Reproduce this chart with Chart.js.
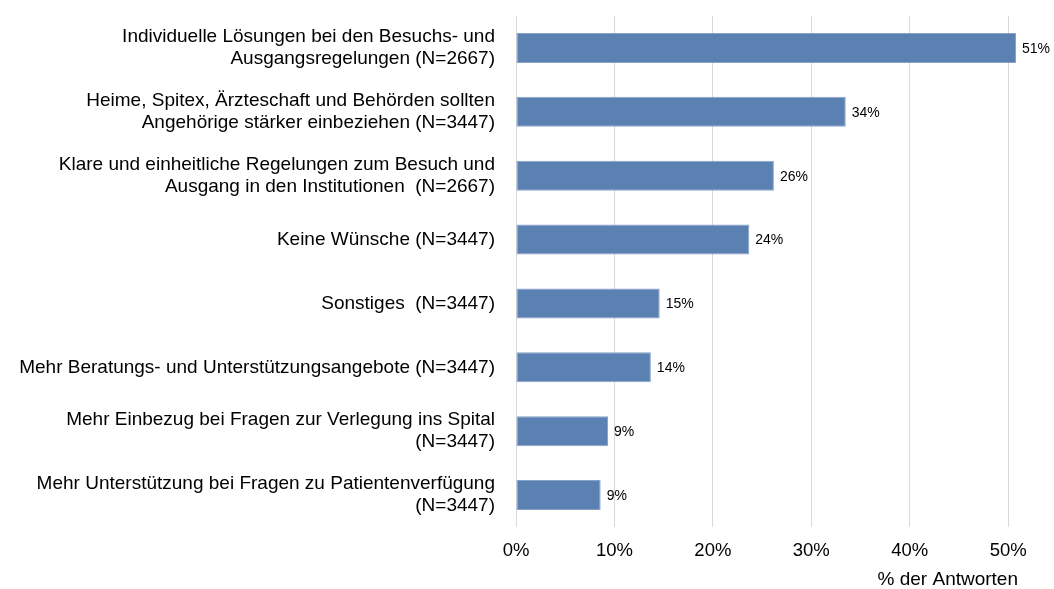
<!DOCTYPE html>
<html>
<head>
<meta charset="utf-8">
<script src="https://cdn.jsdelivr.net/npm/chart.js@4.4.0/dist/chart.umd.min.js"></script>
<style>
  html, body { margin: 0; padding: 0; background: #fff; }
  #wrap { width: 1054px; height: 589px; }
</style>
</head>
<body>
<div id="wrap"><canvas id="barChart"></canvas></div>
<script>
const categories = [
  ["Individuelle Lösungen bei den Besuchs- und", "Ausgangsregelungen (N=2667)"],
  ["Heime, Spitex, Ärzteschaft und Behörden sollten", "Angehörige stärker einbeziehen (N=3447)"],
  ["Klare und einheitliche Regelungen zum Besuch und", "Ausgang in den Institutionen  (N=2667)"],
  "Keine Wünsche (N=3447)",
  "Sonstiges  (N=3447)",
  "Mehr Beratungs- und Unterstützungsangebote (N=3447)",
  ["Mehr Einbezug bei Fragen zur Verlegung ins Spital", "(N=3447)"],
  ["Mehr Unterstützung bei Fragen zu Patientenverfügung", "(N=3447)"]
];
const anteile = [50.8, 33.5, 26.2, 23.7, 14.6, 13.7, 9.35, 8.6];
const tickWerte = [0, 10, 20, 30, 40, 50];

const fontFam = "'Liberation Sans', Arial, sans-serif";

const wertLabels = {
  id: "wertLabels",
  afterDatasetsDraw(chart) {
    const ctx = chart.ctx;
    const meta = chart.getDatasetMeta(0);
    ctx.save();
    ctx.font = "14px " + fontFam;
    ctx.fillStyle = "#000";
    ctx.textAlign = "left";
    ctx.textBaseline = "middle";
    meta.data.forEach((bar, i) => {
      ctx.fillText(Math.round(anteile[i]) + "%", bar.x + 6, bar.y + 1);
    });
    ctx.restore();
  }
};

const dataBar = {
  labels: categories,
  datasets: [{
    data: anteile,
    backgroundColor: "#5b80b2",
    borderColor: "#86a2c8",
    borderWidth: 1,
    borderSkipped: false,
    categoryPercentage: 0.94,
    barPercentage: 0.5,
  }, ],
};

const configBar = {
  type: "bar",
  data: dataBar,
  options: {
    indexAxis: "y",
    responsive: true,
    maintainAspectRatio: false,
    animation: false,
    layout: { padding: { top: 16, right: 36, bottom: 0, left: 0 } },
    plugins: {
      legend: { display: false },
      tooltip: { enabled: false },
    },
    scales: {
      x: {
        min: 0,
        max: 51,
        afterBuildTicks: (axis) => {
          axis.ticks = tickWerte.map((v) => ({ value: v }));
        },
        afterFit: (scale) => { scale.height = 62; },
        ticks: {
          callback: (v) => v + "%",
          font: { family: fontFam, size: 18.5 },
          color: "#000",
          padding: 13,
          maxRotation: 0,
        },
        grid: { color: "#d9d9d9", lineWidth: 1, drawTicks: false },
        border: { display: false },
        title: {
          display: true,
          text: "% der Antworten",
          align: "end",
          font: { family: fontFam, size: 19 },
          color: "#000",
          padding: { top: 6, bottom: -2 },
        },
      },
      y: {
        afterFit: (scale) => {
          scale.width = 516;
          scale.paddingTop = 0;
          scale.paddingBottom = 0;
        },
        ticks: {
          font: { family: fontFam, size: 19, lineHeight: 1.15 },
          color: "#000",
          padding: 21,
        },
        grid: { display: false, drawTicks: false },
        border: { display: false },
      },
    },
  },
  plugins: [wertLabels],
};

const barChart = new Chart(document.getElementById("barChart"), configBar);
</script>
</body>
</html>
